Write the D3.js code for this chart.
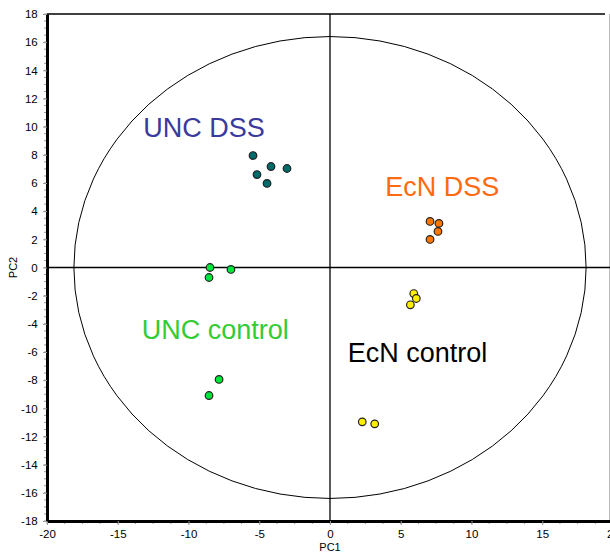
<!DOCTYPE html>
<html>
<head>
<meta charset="utf-8">
<script src="https://cdn.jsdelivr.net/npm/d3@7"></script>
<style>
  body { margin: 0; background: #fff; }
  svg { font-family: "Liberation Sans", Arial, sans-serif; }
</style>
</head>
<body>
<div id="chart"></div>
<script>
// groups and their scores (PC1, PC2)
var groups = ["UNC DSS", "UNC control", "EcN DSS", "EcN control"];
var groupColors = ["#006b6b", "#00e63c", "#ff7700", "#ffee00"];
var labelColors = ["#3a3a9e", "#33cc33", "#ff6a10", "#000000"];
var pc1 = [
  [-5.44, -4.17, -3.04, -5.16, -4.45],
  [-8.48, -8.55, -7.0, -7.84, -8.55],
  [7.07, 7.7, 7.63, 7.07],
  [5.92, 6.1, 5.68, 2.28, 3.16]
];
var pc2 = [
  [7.95, 7.17, 7.03, 6.6, 5.97],
  [0.0, -0.71, -0.14, -7.95, -9.09],
  [3.27, 3.13, 2.56, 1.99],
  [-1.85, -2.2, -2.65, -10.96, -11.1]
];
// label anchor (data coords)
var labelX = [-13.2, -13.3, 3.9, 1.25];
var labelY = [9.3, -5.1, 5.1, -6.7];
var xTicks = [-20, -15, -10, -5, 0, 5, 10, 15, 20];
var yTicks = d3.range(-18, 19, 2);
var ellipseR = [18.1, 16.4];

var width = 610, height = 553;
var x = d3.scaleLinear().domain([-20, 20]).range([47, 613]);
var y = d3.scaleLinear().domain([-18, 18]).range([521, 14]);

var svg = d3.select('#chart').append('svg').attr('width', width).attr('height', height);

// frame top / right
svg.append('line').attr('x1', x(-20)).attr('x2', 605).attr('y1', y(18)).attr('y2', y(18))
  .attr('stroke', '#000').attr('stroke-width', 1.5);
svg.append('line').attr('x1', 609.5).attr('x2', 609.5).attr('y1', y(18)).attr('y2', y(-18))
  .attr('stroke', '#bbb').attr('stroke-width', 1);

// minor ticks
var xMinor = d3.range(-20, 20.01, 1.25);
svg.selectAll('.xminor').data(xMinor).enter().append('line')
  .attr('x1', function(d){ return x(d); }).attr('x2', function(d){ return x(d); })
  .attr('y1', y(-18)).attr('y2', y(-18) + 3).attr('stroke', '#999');
var yMinor = d3.range(-18, 18.01, 0.5);
svg.selectAll('.yminor').data(yMinor).enter().append('line')
  .attr('x1', x(-20) - 3).attr('x2', x(-20))
  .attr('y1', function(d){ return y(d); }).attr('y2', function(d){ return y(d); }).attr('stroke', '#999');

// axes
var fmt = function(d){ return String(d); };
var xAxis = svg.append('g').attr('transform', 'translate(0,' + y(-18) + ')')
  .call(d3.axisBottom(x).tickValues(xTicks).tickFormat(fmt).tickSize(4).tickSizeOuter(0));
var yAxis = svg.append('g').attr('transform', 'translate(' + x(-20) + ',0)')
  .call(d3.axisLeft(y).tickValues(yTicks).tickFormat(fmt).tickSize(4).tickSizeOuter(0));
[xAxis, yAxis].forEach(function(g){
  g.select('.domain').attr('stroke', '#000').attr('stroke-width', 3);
  g.selectAll('.tick line').attr('stroke', '#999');
  g.selectAll('.tick text').attr('font-size', 11.5).attr('fill', '#000')
    .attr('font-family', '"Liberation Sans", Arial, sans-serif');
});
xAxis.selectAll('.tick text').attr('dy', '0.85em');
yAxis.selectAll('.tick text').attr('dx', '-0.2em');

svg.append('text').attr('x', x(0)).attr('y', 551).attr('text-anchor', 'middle')
  .attr('font-size', 11).text('PC1');
svg.append('text').attr('transform', 'translate(17,' + y(0) + ') rotate(-90)')
  .attr('text-anchor', 'middle').attr('font-size', 11).text('PC2');

// zero lines
svg.append('line').attr('x1', x(-20)).attr('x2', 610).attr('y1', y(0)).attr('y2', y(0))
  .attr('stroke', '#000').attr('stroke-width', 1.3);
svg.append('line').attr('x1', x(0)).attr('x2', x(0)).attr('y1', y(18)).attr('y2', y(-18))
  .attr('stroke', '#000').attr('stroke-width', 1.3);

// confidence ellipse
svg.append('ellipse').attr('cx', x(0)).attr('cy', y(0))
  .attr('rx', x(ellipseR[0]) - x(0)).attr('ry', y(0) - y(ellipseR[1]))
  .attr('fill', 'none').attr('stroke', '#000').attr('stroke-width', 1);

// points
groups.forEach(function(g, gi){
  var pts = pc1[gi].map(function(v, i){ return [v, pc2[gi][i]]; });
  svg.selectAll('.p' + gi).data(pts).enter().append('circle')
    .attr('cx', function(d){ return x(d[0]); })
    .attr('cy', function(d){ return y(d[1]); })
    .attr('r', 3.8)
    .attr('fill', groupColors[gi])
    .attr('stroke', '#222').attr('stroke-width', 1.2);
  svg.append('text').attr('x', x(labelX[gi])).attr('y', y(labelY[gi]))
    .attr('font-size', 27).attr('fill', labelColors[gi]).text(g);
});
</script>
</body>
</html>
